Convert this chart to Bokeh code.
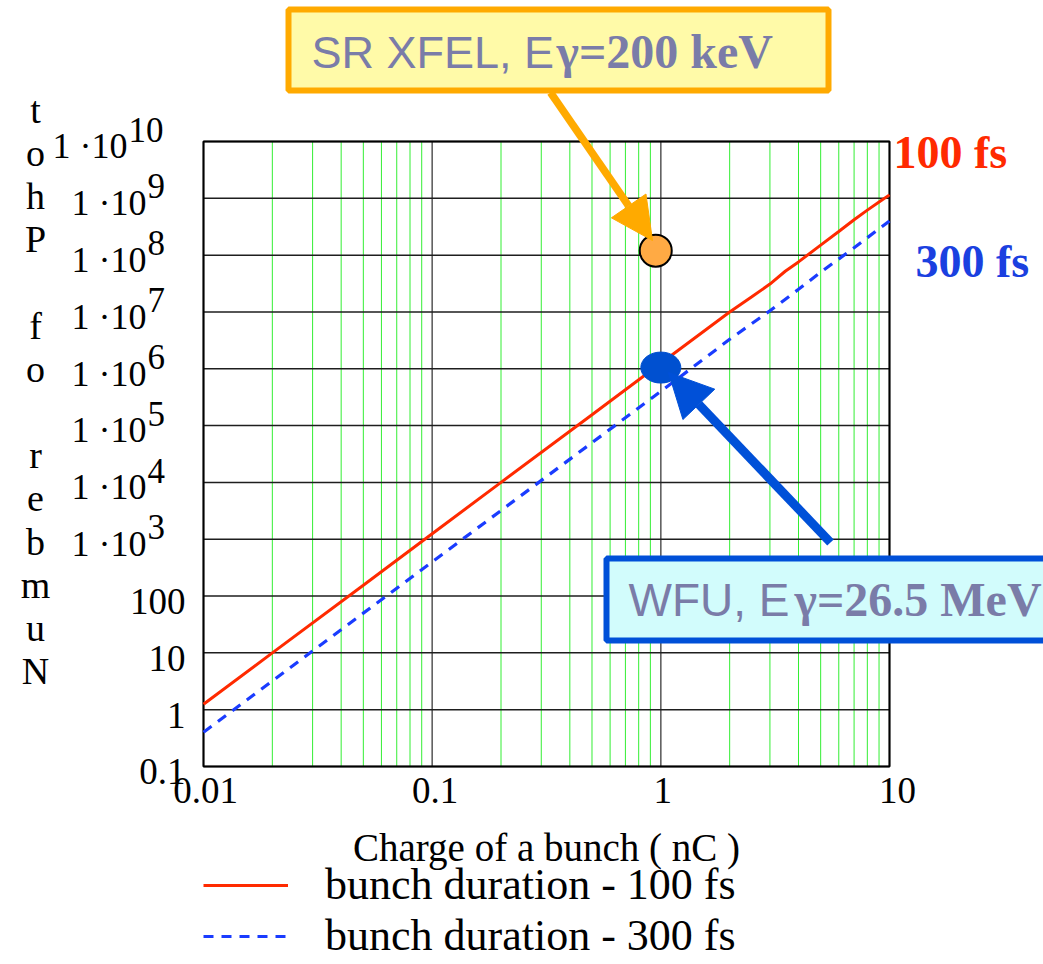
from bokeh.plotting import figure
from bokeh.models import (Range1d, Label, Arrow, NormalHead, BoxAnnotation,
                          Legend, LegendItem)
from bokeh.embed import file_html
from bokeh.resources import INLINE

# ---------------- data ----------------
charge_100 = [0.01, 0.02, 0.05, 0.1, 0.2, 0.5, 1, 2, 2.5, 3, 3.5, 4, 5, 6, 7, 8, 9, 10]
photons_100 = [1.25, 10, 155, 1.25e3, 1.0e4, 1.55e5, 1.25e6, 1.0e7, 1.85e7, 3.1e7,
               5.2e7, 7.6e7, 1.5e8, 2.6e8, 4.2e8, 6.2e8, 8.6e8, 1.15e9]
charge_300 = [0.01, 0.02, 0.05, 0.1, 0.2, 0.5, 1, 2, 3, 4, 5, 7, 10]
photons_300 = [0.40, 3.2, 50, 400, 3.2e3, 5.0e4, 4.0e5, 3.3e6, 1.05e7, 2.5e7,
               5.0e7, 1.35e8, 4.0e8]
sr_xfel_q, sr_xfel_n = [0.95], [1.2e8]
wfu_q, wfu_n = [1.0], [1.05e6]

x_ticks = [0.01, 0.1, 1, 10]
x_tick_labels = ["0.01", "0.1", "1", "10"]
x_minor = [0.02, 0.03, 0.04, 0.05, 0.06, 0.07, 0.08, 0.09,
           0.2, 0.3, 0.4, 0.5, 0.6, 0.7, 0.8, 0.9,
           2, 3, 4, 5, 6, 7, 8, 9]
y_ticks = [0.1, 1, 10, 100, 1e3, 1e4, 1e5, 1e6, 1e7, 1e8, 1e9, 1e10]
y_plain_labels = ["0.1", "1", "10", "100"]
y_exponents = ["3", "4", "5", "6", "7", "8", "9", "10"]
y_title = "Number of Phot"
x_title = "Charge of a bunch ( nC )"
legend_labels = ["bunch duration - 100 fs", "bunch duration - 300 fs"]

# ---------------- layout: page pixels of the plotting area ----------------
W, H = 1043, 964
FL, FR, FT, FB = 203, 889, 141, 766
XLO, XHI = x_ticks[0], x_ticks[-1]
YLO, YHI = y_ticks[0], y_ticks[-1]
BF = 0.34   # baseline correction (fraction of font size)


def dx(px):
    return 10 ** (-2 + 3 * (px - FL) / (FR - FL))


def dy(py):
    return 10 ** (10 - 11 * (py - FT) / (FB - FT))


p = figure(width=W, height=H, x_axis_type="log", y_axis_type="log",
           x_range=Range1d(dx(0), dx(W)), y_range=Range1d(dy(H), dy(0)),
           x_axis_location=None, y_axis_location=None,
           output_backend="svg", toolbar_location=None, min_border=0)
p.background_fill_color = "white"
p.border_fill_color = "white"
p.outline_line_color = None
p.grid.visible = False

SERIF = "Liberation Serif"

# ---------------- grid (from tick arrays) + frame ----------------
p.segment(x0=x_minor, y0=[YLO] * len(x_minor), x1=x_minor, y1=[YHI] * len(x_minor),
          line_color="#33ee33", line_width=1)
p.segment(x0=x_ticks, y0=[YLO] * len(x_ticks), x1=x_ticks, y1=[YHI] * len(x_ticks),
          line_color="#555555", line_width=1.5)
p.segment(x0=[XLO] * len(y_ticks), y0=y_ticks, x1=[XHI] * len(y_ticks), y1=y_ticks,
          line_color="#1e1e1e", line_width=1.5)
p.quad(left=[XLO], right=[XHI], bottom=[YLO], top=[YHI], fill_color=None,
       line_color="black", line_width=2)

# ---------------- series ----------------
r100 = p.line(charge_100, photons_100, line_color="#ff2a00", line_width=3)
r300 = p.line(charge_300, photons_300, line_color="#1a3cff", line_width=3.2,
              line_dash="10 8")

p.scatter(sr_xfel_q, sr_xfel_n, size=32, fill_color="#ffaa44",
          line_color="black", line_width=2)
p.ellipse(wfu_q, wfu_n, width=40, height=31, width_units="screen",
          height_units="screen", fill_color="#0050d0", line_color="#0050d0")

# ---------------- tick labels ----------------
p.text(x=[XLO] * 4, y=y_ticks[:4], text=y_plain_labels, x_offset=185 - FL,
       y_offset=18 - BF * 37,
       text_font=SERIF, text_font_size="37px", text_align="right",
       text_baseline="alphabetic", text_color="black")
pow_vals = y_ticks[4:]
base_edge = [(146 if len(e) == 1 else 127) - FL for e in y_exponents]
p.text(x=[XLO] * len(pow_vals), y=pow_vals, text=["1 \u00b710"] * len(pow_vals),
       x_offset=base_edge, y_offset=17 - BF * 36, text_font=SERIF,
       text_font_size="36px", text_align="right", text_baseline="alphabetic",
       text_color="black")
p.text(x=[XLO] * len(pow_vals), y=pow_vals, text=y_exponents,
       x_offset=[b + 1 for b in base_edge], y_offset=0 - BF * 35, text_font=SERIF,
       text_font_size="35px", text_align="left", text_baseline="alphabetic",
       text_color="black")
p.text(x=x_ticks, y=[YLO] * 4, text=x_tick_labels, x_offset=[2, 3, 2, 8],
       y_offset=37 - BF * 37,
       text_font=SERIF, text_font_size="37px", text_align="center",
       text_baseline="alphabetic", text_color="black")

# axis titles
p.text(x=[dx(546)], y=[dy(860 - BF * 39)], text=[x_title], text_font=SERIF,
       text_font_size="39px", text_align="center", text_baseline="alphabetic",
       text_color="black")
letters = list(reversed(y_title))
lx, ly, lt, lyo = [], [], [], []
for k, ch in enumerate(letters):
    if ch != " ":
        lx.append(XLO)
        ly.append(YHI)
        lt.append(ch)
        lyo.append(122 + 43.2 * k - FT - BF * 38)
p.text(x=lx, y=ly, text=lt, x_offset=35 - FL, y_offset=lyo, text_font=SERIF,
       text_font_size="38px", text_align="center", text_baseline="alphabetic",
       text_color="black")

# series end labels
p.text(x=[XHI, XHI], y=[YHI, YHI], text=["100 fs", "300 fs"], x_offset=[4, 26],
       y_offset=[27 - BF * 46, 136 - BF * 46], text_font=SERIF,
       text_font_style="bold", text_font_size="46px",
       text_color=["#ff2a00", "#1a40e0"],
       text_align="left", text_baseline="alphabetic")

# ---------------- arrows ----------------
p.add_layout(Arrow(x_start=dx(550), y_start=dy(92), x_end=dx(652), y_end=dy(240),
                   line_color="#ffaa00", line_width=7.5,
                   end=NormalHead(size=42, fill_color="#ffaa00", line_color="#ffaa00")))
p.add_layout(Arrow(x_start=dx(830), y_start=dy(542), x_end=dx(668), y_end=dy(372),
                   line_color="#0050d8", line_width=9,
                   end=NormalHead(size=44, fill_color="#0050d8", line_color="#0050d8")))

# ---------------- callout boxes ----------------
p.add_layout(BoxAnnotation(left=dx(288), right=dx(828), top=dy(9), bottom=dy(90),
                           fill_color="#fffaa8", fill_alpha=1,
                           line_color="#ffaa00", line_width=6, line_alpha=1))
p.add_layout(BoxAnnotation(left=dx(606), right=dx(1070), top=dy(558), bottom=dy(640),
                           fill_color="#d2fcfc", fill_alpha=1,
                           line_color="#0050d8", line_width=6, line_alpha=1))


def lab(text, px, py, size, font=SERIF, style="normal", color="#7a7ca8"):
    p.add_layout(Label(x=dx(px), y=dy(py - BF * size), text=text, text_font=font,
                       text_font_size=f"{size}px", text_font_style=style,
                       text_color=color, text_align="left",
                       text_baseline="alphabetic"))


lab("SR XFEL, E", 311, 67, 45, font="Liberation Sans")
lab("\u03b3=200 keV", 556, 67, 48, style="bold")
lab("WFU, E", 628, 615, 46, font="Liberation Sans")
lab("\u03b3=26.5 MeV", 794, 615, 48, style="bold")

# ---------------- legend ----------------
legend = Legend(items=[LegendItem(label=legend_labels[0], renderers=[r100]),
                       LegendItem(label=legend_labels[1], renderers=[r300])],
                location=(FL, 3))
legend.label_text_font = SERIF
legend.label_text_font_size = "44px"
legend.label_text_color = "black"
legend.glyph_width = 85
legend.glyph_height = 48
legend.label_height = 48
legend.label_standoff = 37
legend.spacing = 0
legend.padding = 0
legend.margin = 0
legend.border_line_color = None
legend.background_fill_alpha = 0
p.add_layout(legend)

open("out.html", "w").write(file_html(p, INLINE))
